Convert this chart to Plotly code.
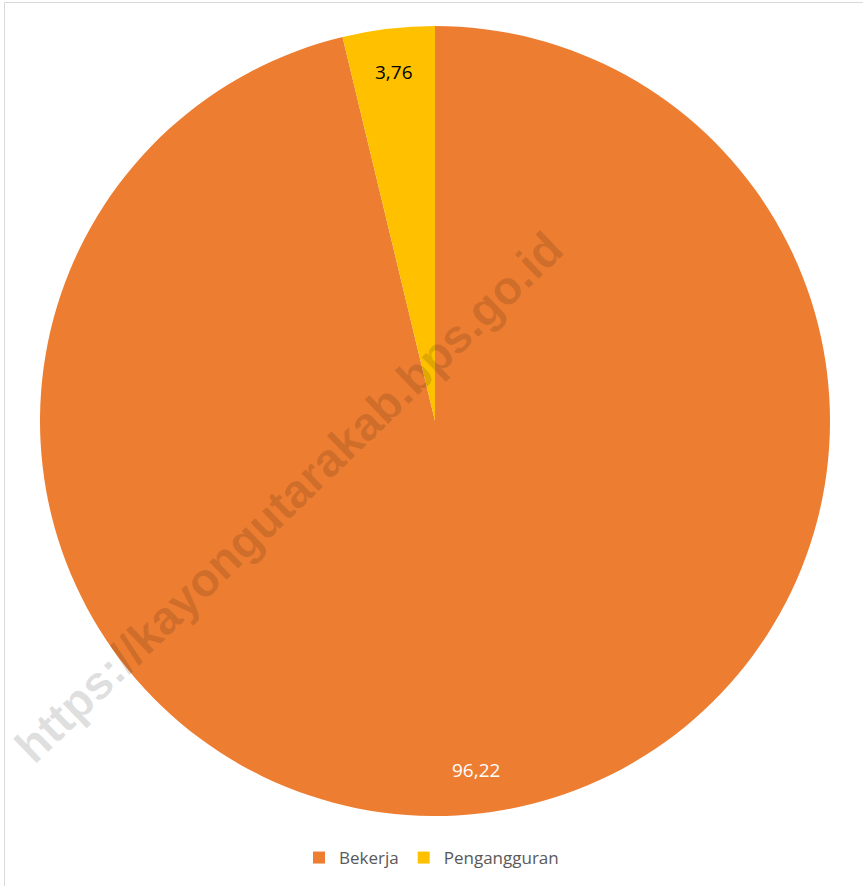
import math
import plotly.graph_objects as go

labels = ["Bekerja", "Pengangguran"]
values = [96.22, 3.76]
colors = ["#ED7D31", "#FFC000"]
label_colors = ["white", "black"]

W, H = 863, 886
CX, CY, R = 435, 421, 395  # pie centre / radius in pixels

fig = go.Figure()
fig.add_trace(go.Pie(
    labels=labels,
    values=values,
    sort=False,
    direction="clockwise",
    rotation=0,
    marker=dict(colors=colors, line=dict(width=0)),
    textinfo="none",
    hoverinfo="label+value",
    domain=dict(x=[(CX - R) / W, (CX + R) / W],
                y=[1 - (CY + R) / H, 1 - (CY - R) / H]),
))

# value labels placed at the mid-angle of each slice
total = sum(values)
cum = 0.0
annotations = []
for v, col in zip(values, label_colors):
    mid = (cum + v / 2) / total * 2 * math.pi
    cum += v
    r = 0.89 * R
    px = CX + r * math.sin(mid)
    py = CY - r * math.cos(mid)
    annotations.append(dict(
        x=px / W, y=1 - py / H, xref="paper", yref="paper",
        text=f"{v:.2f}".replace(".", ","), showarrow=False,
        font=dict(family="Open Sans, Lato, sans-serif", size=19, color=col),
        xanchor="center", yanchor="middle",
    ))

# watermark
annotations.append(dict(
    x=288 / W, y=1 - 497 / H, xref="paper", yref="paper",
    text="https://kayongutarakab.bps.go.id", showarrow=False, textangle=-44,
    font=dict(family="Liberation Sans, Arial, sans-serif", size=47,
              color="rgba(0,0,0,0.12)", weight="bold"),
    xanchor="center", yanchor="middle",
))

fig.update_layout(
    width=W, height=H,
    margin=dict(l=0, r=0, t=0, b=0),
    paper_bgcolor="white",
    separators=",.",
    showlegend=True,
    legend=dict(orientation="h", x=0.50, y=1 - 858 / H, xanchor="center",
                yanchor="middle",
                font=dict(family="Open Sans, Lato, sans-serif", size=17,
                          color="#595959"),
                itemwidth=30, traceorder="normal"),
    annotations=annotations,
    shapes=[
        dict(type="line", xref="paper", yref="paper",
             x0=4.5 / W, x1=4.5 / W, y0=0, y1=1 - 2.5 / H,
             line=dict(color="#d9d9d9", width=1)),
        dict(type="line", xref="paper", yref="paper",
             x0=4.5 / W, x1=1, y0=1 - 2.5 / H, y1=1 - 2.5 / H,
             line=dict(color="#d9d9d9", width=1)),
    ],
)

fig.write_html("out.html", config={"displayModeBar": False},
               post_script="document.body.style.margin='0';")
